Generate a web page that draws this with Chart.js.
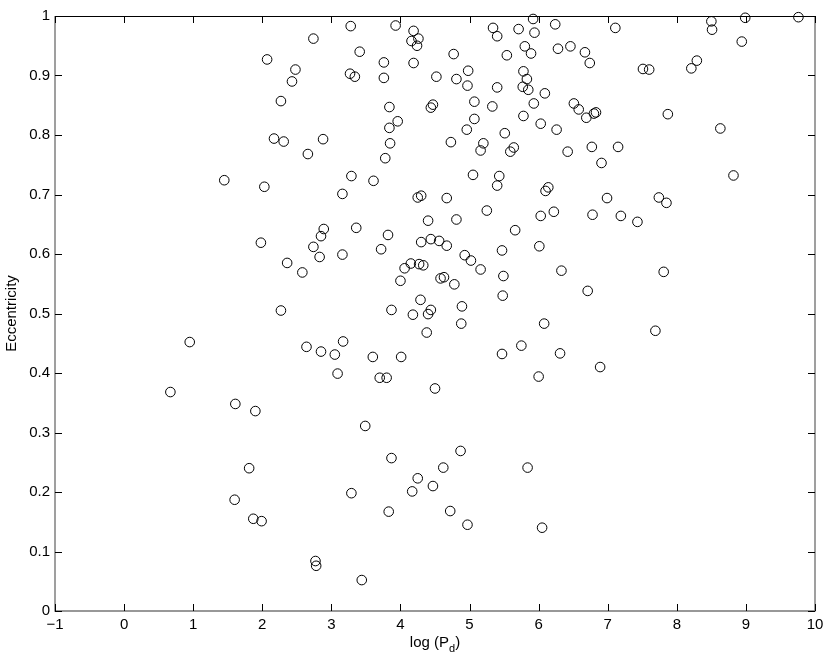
<!DOCTYPE html>
<html>
<head>
<meta charset="utf-8">
<script src="https://cdn.jsdelivr.net/npm/chart.js@4.4.1/dist/chart.umd.min.js"></script>
<style>
  html, body { margin: 0; padding: 0; background: #fff; }
  #wrap { width: 830px; height: 661px; }
</style>
</head>
<body>
<div id="wrap"><canvas id="chart" width="830" height="661"></canvas></div>
<script>
// log of period (days) and eccentricity
const logPd = [
  2.74, 2.07, 2.48, 2.43, 2.27, 2.17, 2.31, 2.88, 2.66, 1.45, 2.03, 2.89, 2.85, 1.98, 2.74, 2.83, 2.36, 2.58, 2.27,
  3.28, 3.93, 4.19, 4.26, 4.16, 4.24, 5.34, 5.40, 5.71, 5.92, 5.94, 6.24, 7.11,
  3.41, 3.76, 4.19, 4.77, 5.54, 5.80, 5.89, 6.28, 6.46, 6.67, 6.74,
  3.27, 3.34, 3.76, 4.52, 4.81, 4.98, 4.97, 5.40, 5.78, 5.83, 5.77, 5.85, 6.09,
  3.84, 4.44, 4.47, 5.07, 5.33, 5.93, 6.51, 6.58, 6.69, 6.80, 6.83,
  3.84, 3.96, 5.07, 4.96, 5.78, 6.03, 6.26,
  3.85, 4.73, 5.20, 5.16, 5.51, 5.64, 5.59, 6.42, 6.77, 6.91, 7.15, 3.78,
  3.29, 3.61, 3.16, 5.05, 5.43, 5.40, 4.25, 4.30, 4.67, 6.14, 6.10, 6.99,
  5.25, 6.03, 6.22, 6.78, 3.36, 4.40, 4.81, 5.66, 3.82, 3.72, 3.16,
  4.30, 4.44, 4.56, 4.67, 5.47, 6.01, 4.06, 4.15, 4.27, 4.33, 4.93, 5.02, 5.16, 6.33,
  4.00, 4.58, 4.63, 4.78, 5.49, 5.48, 6.71, 4.29, 3.87, 4.18, 4.40, 4.44, 4.89, 4.88, 6.08,
  8.50, 8.51, 8.99, 9.76, 8.94, 8.29, 8.21, 7.51, 7.60, 7.87, 8.63, 8.82, 7.74, 7.85, 7.19, 7.43, 7.81,
  0.95, 2.64, 2.85, 3.05, 3.09, 0.67, 1.61, 1.90, 1.81, 1.60, 1.87, 1.99, 2.77, 2.78,
  4.38, 3.17, 3.60, 4.01, 5.47, 5.75, 6.31, 3.70, 3.80, 4.50, 6.00, 6.89,
  3.49, 3.87, 4.87, 4.62, 5.84, 4.25, 3.29, 4.17, 4.47, 3.83, 4.72, 4.97, 6.05, 3.44,
  7.69
];
const eccentricity = [
  0.962, 0.927, 0.910, 0.890, 0.857, 0.794, 0.789, 0.793, 0.768, 0.724, 0.713, 0.642, 0.630, 0.619, 0.612, 0.595, 0.585, 0.569, 0.505,
  0.983, 0.984, 0.975, 0.962, 0.958, 0.950, 0.980, 0.966, 0.978, 0.995, 0.972, 0.986, 0.980,
  0.940, 0.922, 0.921, 0.936, 0.934, 0.949, 0.937, 0.945, 0.949, 0.939, 0.921,
  0.903, 0.898, 0.896, 0.898, 0.894, 0.908, 0.883, 0.880, 0.907, 0.894, 0.881, 0.876, 0.870,
  0.847, 0.846, 0.851, 0.856, 0.848, 0.853, 0.853, 0.843, 0.829, 0.836, 0.838,
  0.812, 0.823, 0.827, 0.809, 0.832, 0.819, 0.809,
  0.786, 0.788, 0.786, 0.774, 0.803, 0.779, 0.772, 0.772, 0.780, 0.753, 0.780, 0.761,
  0.731, 0.723, 0.701, 0.733, 0.731, 0.715, 0.695, 0.698, 0.694, 0.712, 0.706, 0.694,
  0.673, 0.664, 0.671, 0.666, 0.644, 0.656, 0.658, 0.640, 0.632, 0.608, 0.599,
  0.620, 0.625, 0.622, 0.614, 0.606, 0.613, 0.576, 0.584, 0.583, 0.581, 0.598, 0.589, 0.574, 0.572,
  0.555, 0.559, 0.561, 0.549, 0.563, 0.530, 0.538, 0.523, 0.506, 0.498, 0.499, 0.506, 0.512, 0.483, 0.483,
  0.991, 0.977, 0.997, 0.998, 0.957, 0.925, 0.912, 0.911, 0.910, 0.835, 0.811, 0.732, 0.695, 0.686, 0.664, 0.654, 0.570,
  0.452, 0.444, 0.436, 0.431, 0.399, 0.368, 0.348, 0.336, 0.240, 0.187, 0.155, 0.151, 0.084, 0.076,
  0.468, 0.453, 0.427, 0.427, 0.432, 0.446, 0.433, 0.392, 0.392, 0.374, 0.394, 0.410,
  0.311, 0.257, 0.269, 0.241, 0.241, 0.223, 0.198, 0.201, 0.210, 0.167, 0.168, 0.145, 0.140, 0.052,
  0.471
];

const xTicks = [-1, 0, 1, 2, 3, 4, 5, 6, 7, 8, 9, 10];
const yTicks = [0, 0.1, 0.2, 0.3, 0.4, 0.5, 0.6, 0.7, 0.8, 0.9, 1];
const xTitle = ['log (P', 'd', ')'];
const yTitle = 'Eccentricity';

const FONT = '"Liberation Sans", Arial, Helvetica, sans-serif';
Chart.defaults.font.family = FONT;
Chart.defaults.font.size = 15;
Chart.defaults.color = '#000';

// box, inward ticks on all four sides, and axis titles (MATLAB look)
const frame = {
    id: 'frame',
    afterDatasetsDraw(chart) {
        const { ctx, chartArea: a } = chart;
        const x = chart.scales.x, y = chart.scales.y;
        const len = 7;
        const L = Math.round(a.left), R = Math.round(a.right);
        const T = Math.round(a.top), B = Math.round(a.bottom);
        ctx.save();

        // left, bottom, right edges come out grey in the original
        ctx.strokeStyle = '#777';
        ctx.lineWidth = 1.4;
        ctx.beginPath();
        ctx.moveTo(L, T); ctx.lineTo(L, B); ctx.lineTo(R, B); ctx.lineTo(R, T);
        ctx.stroke();
        ctx.strokeStyle = '#000';
        ctx.lineWidth = 1;
        ctx.beginPath();
        ctx.moveTo(L, T + 0.5); ctx.lineTo(R, T + 0.5);
        xTicks.forEach(v => {
            const p = Math.round(x.getPixelForValue(v)) + 0.5;
            ctx.moveTo(p, B); ctx.lineTo(p, B - len);
            ctx.moveTo(p, T); ctx.lineTo(p, T + len);
        });
        yTicks.forEach(v => {
            const p = Math.round(y.getPixelForValue(v)) + 0.5;
            ctx.moveTo(L, p); ctx.lineTo(L + len, p);
            ctx.moveTo(R, p); ctx.lineTo(R - len, p);
        });
        ctx.stroke();

        // x title with subscript
        ctx.fillStyle = '#000';
        ctx.textBaseline = 'alphabetic';
        ctx.textAlign = 'left';
        const big = '15px ' + FONT, small = '11px ' + FONT;
        ctx.font = big;
        const w1 = ctx.measureText(xTitle[0]).width;
        const w3 = ctx.measureText(xTitle[2]).width;
        ctx.font = small;
        const w2 = ctx.measureText(xTitle[1]).width;
        const cx = (a.left + a.right) / 2;
        let sx = cx - (w1 + w2 + w3) / 2;
        const base = a.bottom + 36;
        ctx.font = big; ctx.fillText(xTitle[0], sx, base); sx += w1;
        ctx.font = small; ctx.fillText(xTitle[1], sx, base + 5); sx += w2;
        ctx.font = big; ctx.fillText(xTitle[2], sx, base);

        // y title
        ctx.translate(16, (a.top + a.bottom) / 2);
        ctx.rotate(-Math.PI / 2);
        ctx.textAlign = 'center';
        ctx.font = big;
        ctx.fillText(yTitle, 0, 0);
        ctx.restore();
    }
};

new Chart(document.getElementById('chart'), {
    type: 'scatter',
    data: {
        datasets: [{
            data: logPd.map((v, i) => ({ x: v, y: eccentricity[i] })),
            pointStyle: 'circle',
            pointRadius: 4.8,
            borderColor: '#000',
            backgroundColor: 'rgba(0,0,0,0)',
            borderWidth: 1,
            clip: false,
        }],
    },
    options: {
        responsive: false,
        animation: false,
        events: [],
        layout: { padding: { top: 16, right: 15, left: 0, bottom: 0 } },
        plugins: { legend: { display: false }, tooltip: { enabled: false } },
        scales: {
            x: {
                type: 'linear',
                min: -1, max: 10,
                afterBuildTicks: s => { s.ticks = xTicks.map(v => ({ value: v })); },
                afterFit: s => { s.height = 50; },
                grid: { display: false, drawTicks: false },
                border: { display: false },
                ticks: {
                    padding: 5,
                    maxRotation: 0,
                    autoSkip: false,
                    callback: v => v < 0 ? '\u2212' + Math.abs(v) : String(v),
                },
            },
            y: {
                type: 'linear',
                min: 0, max: 1,
                afterBuildTicks: s => { s.ticks = yTicks.map(v => ({ value: v })); },
                afterFit: s => { s.width = 55; },
                grid: { display: false, drawTicks: false },
                border: { display: false },
                ticks: {
                    padding: 5,
                    autoSkip: false,
                    callback: v => String(v),
                },
            },
        },
    },
    plugins: [frame],
});
</script>
</body>
</html>
